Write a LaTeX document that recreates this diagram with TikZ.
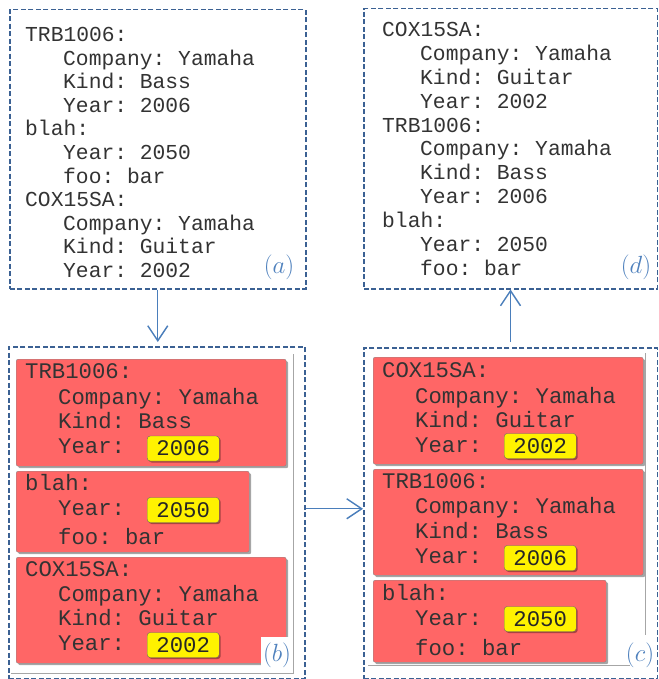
\documentclass[tikz,border=0pt]{standalone}
\usepackage{fontspec}
\setmonofont{Liberation Mono}
\usetikzlibrary{arrows.meta,shadows}
\definecolor{frameblue}{HTML}{3B6193}
\definecolor{arrowblue}{HTML}{4A7EBB}
\definecolor{labblue}{HTML}{4F81BD}
\definecolor{recred}{HTML}{FF6666}
\tikzset{
  dframe/.style={draw=frameblue, line width=1.5pt, dash pattern=on 5pt off 2.5pt, anchor=north west, inner sep=0pt},
  flow/.style={draw=arrowblue, line width=1.4pt, -{Straight Barb[length=15pt,width=20pt]}},
  ptext/.style={anchor=base west, inner sep=0pt, text=black!80, font=\ttfamily\frenchspacing\fontsize{21.3}{24}\selectfont},
  rtext/.style={ptext, font=\ttfamily\frenchspacing\fontsize{22.3}{25}\selectfont},
  rec/.style={draw=black!45, fill=recred, rounded corners=2pt, anchor=north west, inner sep=0pt,
    drop shadow={shadow xshift=2pt, shadow yshift=-2pt, fill=black, opacity=.35}},
  yr/.style={draw=black!60, fill=yellow, rounded corners=3pt, minimum width=72pt, minimum height=25pt,
    anchor=west, inner sep=0pt, text=black!85, font=\ttfamily\fontsize{22.3}{25}\selectfont,
    drop shadow={shadow xshift=1.5pt, shadow yshift=-1.5pt, fill=black, opacity=.35}},
  sub/.style={text=labblue, font=\fontsize{25}{25}\selectfont, inner sep=1pt}
}
\begin{document}
\begin{tikzpicture}[x=1pt,y=-1pt]
  \useasboundingbox (0,0) rectangle (658,679);
  % frames
  \node[dframe, minimum width=296pt, minimum height=279pt] (fa) at (9,9) {};
  \node[dframe, minimum width=296pt, minimum height=332pt] (fb) at (8,346) {};
  \node[dframe, minimum width=293.5pt, minimum height=331pt] (fc) at (363,347) {};
  \node[dframe, minimum width=293.5pt, minimum height=280pt] (fd) at (363,8) {};
  % plain listings
  \foreach \d/\t [count=\i] in {0/TRB1006:,1/Company: Yamaha,1/Kind: Bass,1/Year: 2006,0/blah:,1/Year: 2050,1/foo: bar,0/COX15SA:,1/Company: Yamaha,1/Kind: Guitar,1/Year: 2002}
    \node[ptext] (ta\i) at (25+38*\d,18.5+23.5*\i) {\t};
  \foreach \d/\t [count=\i] in {0/COX15SA:,1/Company: Yamaha,1/Kind: Guitar,1/Year: 2002,0/TRB1006:,1/Company: Yamaha,1/Kind: Bass,1/Year: 2006,0/blah:,1/Year: 2050,1/foo: bar}
    \node[ptext] (td\i) at (382+38*\d,13.2+23.8*\i) {\t};
  % records
  \foreach \x/\y/\w/\h [count=\i] in {16/359/270/107,16/471/233/81,16/557/270/106,373/357/270/107,373/469/270/106,373/580/233/82}
    \node[rec, minimum width=\w, minimum height=\h] (rb\i) at (\x,\y) {};
  \foreach \x/\y/\t [count=\i] in {25/378/TRB1006:,58/404/Company: Yamaha,58/428/Kind: Bass,58/453/Year:,
      25/490/blah:,58/515/Year:,58/544/foo: bar,
      25/576/COX15SA:,58/601/Company: Yamaha,58/625/Kind: Guitar,58/650/Year:,
      382/377/COX15SA:,415/403/Company: Yamaha,415/427/Kind: Guitar,415/452/Year:,
      382/488/TRB1006:,415/513/Company: Yamaha,415/538/Kind: Bass,415/563/Year:,
      382/600/blah:,415/625/Year:,415/655/foo: bar}
    \node[rtext] (r\i) at (\x,\y) {\t};
  \foreach \x/\y/\t [count=\i] in {147/448.5/2006,147/510/2050,147/645/2002,504/446/2002,504/558/2006,504/619/2050}
    \node[yr] (y\i) at (\x,\y) {\t};
  % labels
  \node[sub] (la) at (279,267) {$(a)$};
  \node[sub] (ld) at (636,267) {$(d)$};
  \node[sub, fill=white, minimum width=33pt, minimum height=36pt] (lb) at (277,655) {$(b)$};
  \node[sub] (lc) at (640,655) {$(c)$};
  \draw[black!35, line width=0.7pt] (293,354) -- (293,673) -- (11,673);
  \draw[black!35, line width=0.7pt] (645,353) -- (645,635);
  \draw[black!35, line width=0.7pt] (630,665) -- (368,665);
  % arrows
  \draw[flow, shorten >=4pt] (fa.south) -- (fa.south |- fb.north);
  \draw[flow] ([yshift=4pt]fb.east) -- ([yshift=4pt]fb.east -| fc.west);
  \draw[flow, shorten <=5pt] (fc.north) -- (fc.north |- fd.south);
\end{tikzpicture}
\end{document}
